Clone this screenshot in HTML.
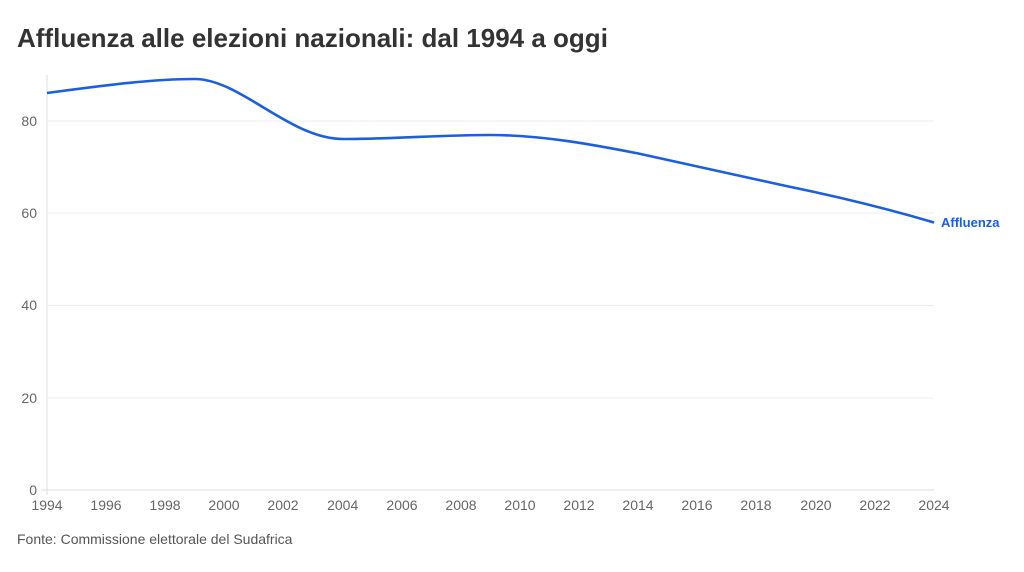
<!DOCTYPE html>
<html><head><meta charset="utf-8"><style>
body{margin:0;background:#fff;width:1024px;height:567px;overflow:hidden;font-family:"Liberation Sans",sans-serif}
</style></head><body>
<svg width="1024" height="567" xmlns="http://www.w3.org/2000/svg" font-family="Liberation Sans, sans-serif">
<text x="17" y="47" font-size="26" font-weight="bold" fill="#333">Affluenza alle elezioni nazionali: dal 1994 a oggi</text>
<g stroke="#ececec" stroke-width="1">
<line x1="47" y1="121" x2="934" y2="121"/>
<line x1="47" y1="213" x2="934" y2="213"/>
<line x1="47" y1="305.5" x2="934" y2="305.5"/>
<line x1="47" y1="398" x2="934" y2="398"/>
<line x1="41" y1="490" x2="934" y2="490" stroke="#ddd"/>
<line x1="47" y1="75" x2="47" y2="495" stroke="#ddd"/>
</g>
<g font-size="14" fill="#666" text-anchor="end">
<text x="37" y="126">80</text><text x="37" y="218">60</text><text x="37" y="310">40</text><text x="37" y="403">20</text><text x="37" y="495">0</text>
</g>
<g font-size="14" fill="#666" text-anchor="middle">
<text x="47" y="510">1994</text><text x="106" y="510">1996</text><text x="165" y="510">1998</text><text x="224" y="510">2000</text><text x="283" y="510">2002</text><text x="342.7" y="510">2004</text><text x="402" y="510">2006</text><text x="461" y="510">2008</text><text x="520" y="510">2010</text><text x="579" y="510">2012</text><text x="638" y="510">2014</text><text x="697" y="510">2016</text><text x="756" y="510">2018</text><text x="816" y="510">2020</text><text x="875" y="510">2022</text><text x="934" y="510">2024</text>
</g>
<path d="M47,93 C100,86 150,79 194.8,79 C240,79 290,139 342.7,139 C395,139 440,135 490.5,135 C540,135 590,144 638.4,153.5 C690,165 740,176 786.2,186 C835,196 885,208 934,222.5" fill="none" stroke="#1a5fe0" stroke-width="2.6"/>
<text x="941" y="227" font-size="13" font-weight="bold" fill="#1a5fe0">Affluenza</text>
<text x="17" y="544" font-size="14" fill="#555">Fonte: Commissione elettorale del Sudafrica</text>
</svg>
</body></html>
